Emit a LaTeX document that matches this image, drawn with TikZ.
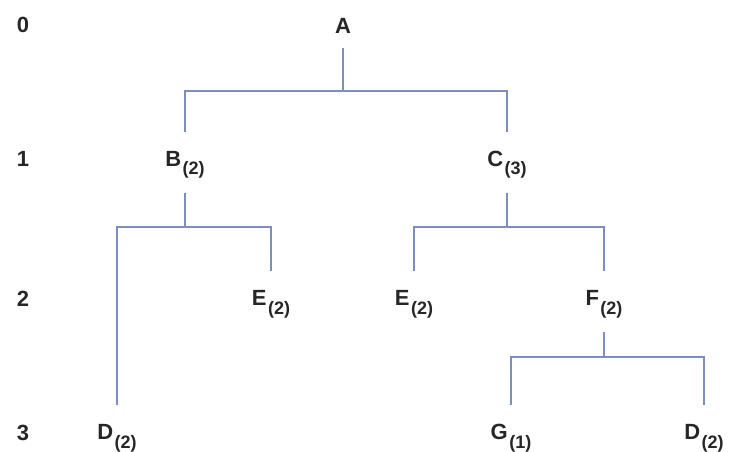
\documentclass[tikz,border=0pt]{standalone}
\usepackage{fontspec}
\setmainfont{Liberation Sans}
\usepackage{tikz}
\usepackage{xcolor}
\definecolor{treeline}{RGB}{124,142,192}
\definecolor{treetext}{RGB}{38,38,38}
\newcommand{\cnt}[1]{\kern1.5pt\raisebox{-9pt}{\fontsize{18}{18}\selectfont(#1)}}
\tikzset{
  vx/.style={anchor=base,text=treetext,font=\fontsize{22}{24}\selectfont\bfseries,
    text height=20pt,inner xsep=0pt,inner ysep=14pt},
  lvl/.style={anchor=base,text=treetext,font=\fontsize{22}{24}\selectfont\bfseries,inner sep=0pt},
  edge/.style={draw=treeline,line width=2.2pt}
}

\begin{document}
\begin{tikzpicture}[x=1pt,y=1pt]
\useasboundingbox (0,0) rectangle (729,-452);
\node[lvl] (l0) at (23,-33) {0};
\node[lvl] (l1) at (23,-166) {1};
\node[lvl] (l2) at (23,-306) {2};
\node[lvl] (l3) at (23,-440) {3};
\node[vx] (A) at (343,-34) {A};
\node[vx] (B) at (185,-166) {B\cnt{2}};
\node[vx] (C) at (507,-166) {C\cnt{3}};
\node[vx] (E1) at (271,-305) {E\cnt{2}};
\node[vx] (E2) at (414,-305) {E\cnt{2}};
\node[vx] (F) at (604,-305) {F\cnt{2}};
\node[vx] (D1) at (117,-439) {D\cnt{2}};
\node[vx] (G) at (511,-439) {G\cnt{1}};
\node[vx] (D2) at (704,-439) {D\cnt{2}};
\coordinate (barA) at (0,-91);
\coordinate (barB) at (0,-227);
\coordinate (barF) at (0,-357);
\draw[edge] (A.south) -- (A.south |- barA) -| (B.north);
\draw[edge] (A.south |- barA) -| (C.north);
\draw[edge] (B.south) -- (B.south |- barB) -| (D1.north);
\draw[edge] (B.south |- barB) -| (E1.north);
\draw[edge] (C.south) -- (C.south |- barB) -| (E2.north);
\draw[edge] (C.south |- barB) -| (F.north);
\draw[edge] (F.south) -- (F.south |- barF) -| (G.north);
\draw[edge] (F.south |- barF) -| (D2.north);
\end{tikzpicture}
\end{document}
